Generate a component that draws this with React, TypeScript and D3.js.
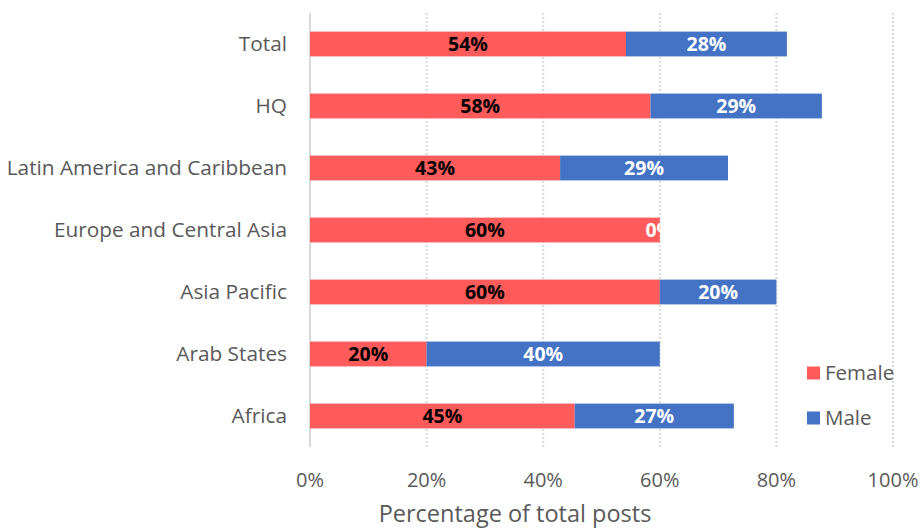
import React, { useEffect, useRef } from 'react';
import * as d3 from 'd3';

const regions = ['Total', 'HQ', 'Latin America and Caribbean', 'Europe and Central Asia', 'Asia Pacific', 'Arab States', 'Africa'];
const femaleShare = [54.2, 58.4, 42.9, 60, 60, 20, 45.4];
const maleShare = [27.6, 29.4, 28.8, 0, 20, 40, 27.3];
const xTicks = [0, 20, 40, 60, 80, 100];

const RED = '#FF5B5B';
const BLUE = '#4472C4';
const GREY = '#595959';
const FONT = '"Open Sans", sans-serif';

const App = () => {
    const ref = useRef<SVGSVGElement>(null);

    useEffect(() => {
        const svg = d3.select(ref.current);
        svg.selectAll('*').remove();

        const left = 310, right = 893, top = 13, bottom = 447;

        const x = d3.scaleLinear().domain([0, 100]).range([left, right]);
        const y = d3.scaleBand().domain(regions).range([top, bottom]).paddingInner(0.6).paddingOuter(0.3);

        // gridlines
        svg.append('g')
            .selectAll('line')
            .data(xTicks.slice(1))
            .enter().append('line')
            .attr('x1', d => x(d)).attr('x2', d => x(d))
            .attr('y1', top).attr('y2', bottom)
            .attr('stroke', '#D9D9D9')
            .attr('stroke-width', 2)
            .attr('stroke-dasharray', '2,2');

        // category axis line
        svg.append('line')
            .attr('x1', left).attr('x2', left)
            .attr('y1', top).attr('y2', bottom)
            .attr('stroke', '#D9D9D9')
            .attr('stroke-width', 2);

        const rows = regions.map((r, i) => ({ r, f: femaleShare[i], m: maleShare[i] }));

        // female bars
        svg.append('g').selectAll('rect')
            .data(rows)
            .enter().append('rect')
            .attr('x', x(0))
            .attr('y', d => y(d.r)!)
            .attr('width', d => x(d.f) - x(0))
            .attr('height', y.bandwidth())
            .attr('fill', RED);

        // male bars
        svg.append('g').selectAll('rect')
            .data(rows)
            .enter().append('rect')
            .attr('x', d => x(d.f))
            .attr('y', d => y(d.r)!)
            .attr('width', d => x(d.f + d.m) - x(d.f))
            .attr('height', y.bandwidth())
            .attr('fill', BLUE);

        // value labels
        const labels = svg.append('g')
            .attr('font-family', FONT)
            .attr('font-size', 19.5)
            .attr('font-weight', 'bold')
            .attr('text-anchor', 'middle');

        labels.selectAll('text.f')
            .data(rows)
            .enter().append('text')
            .attr('class', 'f')
            .attr('x', d => (x(0) + x(d.f)) / 2)
            .attr('y', d => y(d.r)! + y.bandwidth() / 2)
            .attr('dy', '0.36em')
            .attr('fill', '#000')
            .text(d => `${Math.round(d.f)}%`);

        labels.selectAll('text.m')
            .data(rows)
            .enter().append('text')
            .attr('class', 'm')
            .attr('x', d => (x(d.f) + x(d.f + d.m)) / 2)
            .attr('y', d => y(d.r)! + y.bandwidth() / 2)
            .attr('dy', '0.36em')
            .attr('fill', '#fff')
            .text(d => `${Math.round(d.m)}%`);

        // category labels
        svg.append('g').selectAll('text')
            .data(regions)
            .enter().append('text')
            .attr('x', 287)
            .attr('y', d => y(d)! + y.bandwidth() / 2)
            .attr('dy', '0.36em')
            .attr('text-anchor', 'end')
            .attr('font-family', FONT)
            .attr('font-size', 20.8)
            .attr('fill', GREY)
            .text(d => d);

        // x tick labels
        svg.append('g').selectAll('text')
            .data(xTicks)
            .enter().append('text')
            .attr('x', d => x(d))
            .attr('y', 487)
            .attr('text-anchor', 'middle')
            .attr('font-family', FONT)
            .attr('font-size', 20)
            .attr('fill', GREY)
            .text(d => `${d}%`);

        // axis title
        svg.append('text')
            .attr('x', 515)
            .attr('y', 522)
            .attr('text-anchor', 'middle')
            .attr('font-family', FONT)
            .attr('font-size', 23.5)
            .attr('fill', GREY)
            .text('Percentage of total posts');

        // legend
        const legend = [{ name: 'Female', color: RED, cy: 373 }, { name: 'Male', color: BLUE, cy: 418 }];
        const lg = svg.append('g');
        lg.selectAll('rect')
            .data(legend)
            .enter().append('rect')
            .attr('x', 807)
            .attr('y', d => d.cy - 6.5)
            .attr('width', 13)
            .attr('height', 13)
            .attr('fill', d => d.color);
        lg.selectAll('text')
            .data(legend)
            .enter().append('text')
            .attr('x', 825)
            .attr('y', d => d.cy)
            .attr('dy', '0.36em')
            .attr('font-family', FONT)
            .attr('font-size', 20.5)
            .attr('fill', GREY)
            .text(d => d.name);
    }, []);

    return (
        <svg ref={ref} width={924} height={529} style={{ position: 'absolute', left: 0, top: 0, background: '#fff' }} />
    );
};

export default App;
